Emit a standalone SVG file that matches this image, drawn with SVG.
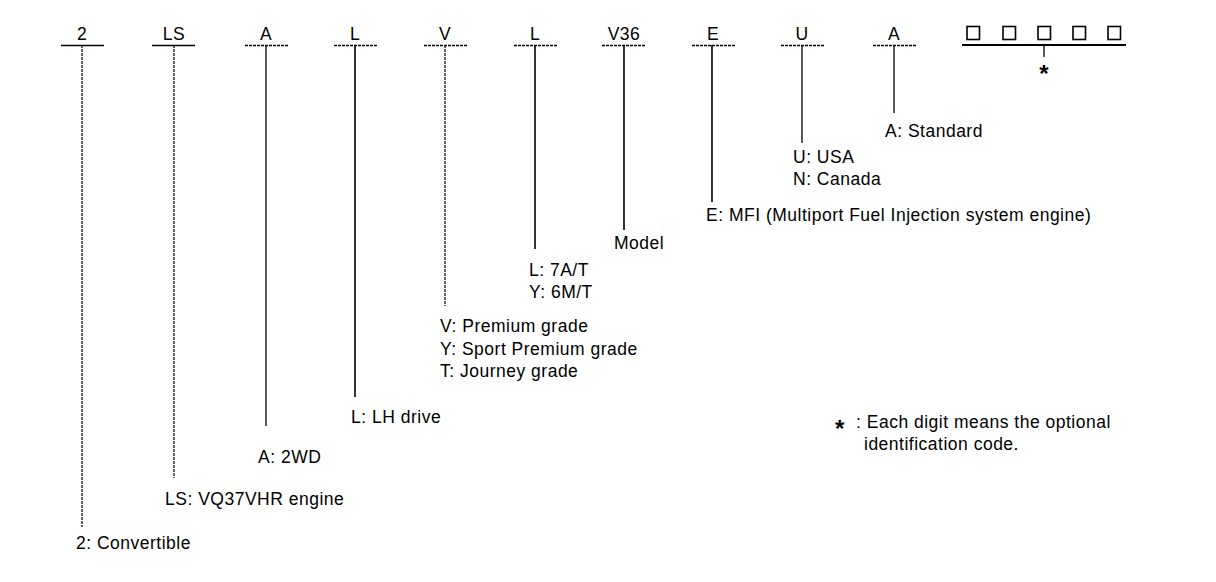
<svg xmlns="http://www.w3.org/2000/svg" width="1216" height="582" viewBox="0 0 1216 582">
<style>
text{font-family:"Liberation Sans",Arial,sans-serif;font-size:17.5px;letter-spacing:0.5px;fill:#000}
.c{text-anchor:middle}
.u{stroke:#000;stroke-width:1.3}
.d{stroke:#000;stroke-width:1.3;stroke-dasharray:3 1}
.v{stroke:#000;stroke-width:1.6}
.p{stroke:#222;stroke-width:1.4;stroke-dasharray:3 1}
.sq{fill:none;stroke:#000;stroke-width:1.6}
</style>
<rect width="1216" height="582" fill="#fff"/>
<g id="codes">
<text class="c" x="82" y="40">2</text>
<text class="c" x="174" y="40">LS</text>
<text class="c" x="266" y="40">A</text>
<text class="c" x="355" y="40">L</text>
<text class="c" x="445" y="40">V</text>
<text class="c" x="535" y="40">L</text>
<text class="c" x="624" y="40">V36</text>
<text class="c" x="713" y="40">E</text>
<text class="c" x="802" y="40">U</text>
<text class="c" x="894" y="40">A</text>
</g>
<g id="connectors">
<line class="u" x1="61" y1="45.5" x2="104" y2="45.5"/>
<line class="u" x1="152" y1="45.5" x2="195" y2="45.5"/>
<line class="d" x1="245" y1="45.5" x2="288" y2="45.5"/>
<line class="d" x1="334" y1="45.5" x2="377" y2="45.5"/>
<line class="d" x1="424" y1="45.5" x2="467" y2="45.5"/>
<line class="d" x1="514" y1="45.5" x2="557" y2="45.5"/>
<line class="d" x1="602" y1="45.5" x2="645" y2="45.5"/>
<line class="d" x1="692" y1="45.5" x2="735" y2="45.5"/>
<line class="d" x1="781" y1="45.5" x2="824" y2="45.5"/>
<line class="d" x1="873" y1="45.5" x2="916" y2="45.5"/>
<line class="u" x1="962" y1="45" x2="1126" y2="45" style="stroke-width:1.8"/>
<line class="p" x1="82" y1="45" x2="82" y2="527"/>
<line class="p" x1="174" y1="45" x2="174" y2="478"/>
<line class="u" x1="266" y1="45" x2="266" y2="426"/>
<line class="v" x1="355" y1="45" x2="355" y2="397"/>
<line class="p" x1="445" y1="45" x2="445" y2="306"/>
<line class="v" x1="535" y1="45" x2="535" y2="249"/>
<line class="v" x1="624" y1="45" x2="624" y2="230"/>
<line class="v" x1="712" y1="45" x2="712" y2="202"/>
<line class="u" x1="802" y1="45" x2="802" y2="143"/>
<line class="u" x1="894" y1="45" x2="894" y2="113"/>
<line class="u" x1="1044" y1="45" x2="1044" y2="57"/>
</g>
<g id="digits">
<rect class="sq" x="967" y="26.5" width="12.5" height="13"/>
<rect class="sq" x="1003" y="26.5" width="12.5" height="13"/>
<rect class="sq" x="1038" y="26.5" width="12.5" height="13"/>
<rect class="sq" x="1073" y="26.5" width="12.5" height="13"/>
<rect class="sq" x="1108" y="26.5" width="12.5" height="13"/>
<text class="c" x="1044" y="82" style="font-size:24px;font-weight:bold;letter-spacing:0">*</text>
</g>
<g id="labels">
<text x="76" y="549">2: Convertible</text>
<text x="165" y="505">LS: VQ37VHR engine</text>
<text x="258" y="463">A: 2WD</text>
<text x="351" y="423">L: LH drive</text>
<text x="440" y="332">V: Premium grade</text>
<text x="440" y="355">Y: Sport Premium grade</text>
<text x="440" y="377">T: Journey grade</text>
<text x="529" y="276">L: 7A/T</text>
<text x="529" y="298">Y: 6M/T</text>
<text x="614" y="249">Model</text>
<text x="706" y="221">E: MFI (Multiport Fuel Injection system engine)</text>
<text x="793" y="163">U: USA</text>
<text x="793" y="185">N: Canada</text>
<text x="885" y="137">A: Standard</text>
</g>
<g id="note">
<text x="835" y="437" style="font-size:24px;font-weight:bold;letter-spacing:0">*</text>
<text x="856" y="428">: Each digit means the optional</text>
<text x="864" y="450">identification code.</text>
</g>
</svg>
